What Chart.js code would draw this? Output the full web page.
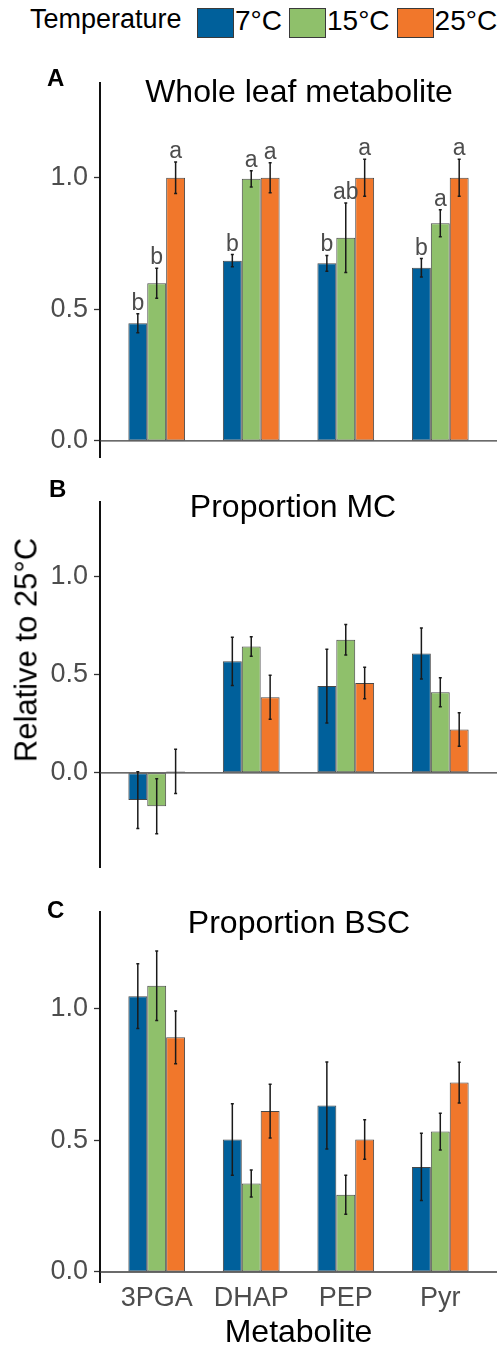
<!DOCTYPE html>
<html>
<head>
<meta charset="utf-8">
<script src="https://cdn.jsdelivr.net/npm/chart.js@4.4.0/dist/chart.umd.min.js"></script>
<style>
  html, body { margin: 0; padding: 0; background: #fff; }
  #fig { position: relative; width: 501px; height: 1345px; overflow: hidden;
         font-family: "Liberation Sans", Arial, sans-serif; }
  .txt { position: absolute; white-space: nowrap; line-height: 1; z-index: 2; color: #000; }
  .panel { position: absolute; left: 0; width: 501px; }
  .panel canvas { display: block; }
  #legend { position: absolute; left: 197px; top: 8px; display: flex; align-items: center; z-index: 2; }
  .lg-box { width: 37px; height: 30px; box-sizing: border-box; border: 1px solid #3a3a3a; }
  .lg-txt { font-size: 28px; line-height: 1; margin: 0 7px 0 1px; position: relative; top: -2px; }
</style>
</head>
<body>
<div id="fig">
  <div class="panel" style="top:60px;height:420px"><canvas id="chart-a" width="501" height="420"></canvas></div>
  <div class="panel" style="top:480px;height:410px"><canvas id="chart-b" width="501" height="410"></canvas></div>
  <div class="panel" style="top:890px;height:462px"><canvas id="chart-c" width="501" height="462"></canvas></div>

  <div class="txt" style="left:30px;top:6px;font-size:27px">Temperature</div>
  <div id="legend"></div>

  <div class="txt" style="left:47px;top:66px;font-size:24px;font-weight:bold">A</div>
  <div class="txt" style="left:49px;top:477px;font-size:24px;font-weight:bold">B</div>
  <div class="txt" style="left:47px;top:898px;font-size:24px;font-weight:bold">C</div>

  <div class="txt" style="left:299px;top:75px;font-size:32px;transform:translateX(-50%)">Whole leaf metabolite</div>
  <div class="txt" style="left:293px;top:490px;font-size:32px;transform:translateX(-50%)">Proportion MC</div>
  <div class="txt" style="left:299px;top:906px;font-size:32px;transform:translateX(-50%)">Proportion BSC</div>

  <div class="txt" style="left:26px;top:650px;font-size:31px;transform:translate(-50%,-50%) rotate(-90deg)">Relative to 25°C</div>
</div>

<script>
'use strict';

// ── Data ──────────────────────────────────────────────────────
const CATEGORIES = ['3PGA', 'DHAP', 'PEP', 'Pyr'];
const TEMPS      = ['7°C', '15°C', '25°C'];
const COLORS     = ['#00609b', '#8fc06b', '#f1772b'];
const Y_TICKS    = [0, 0.5, 1.0];

// A – whole leaf
const WHOLE_7      = [0.447, 0.685, 0.675, 0.658];
const WHOLE_7_ERR  = [0.036, 0.023, 0.030, 0.035];
const WHOLE_15     = [0.599, 0.996, 0.772, 0.827];
const WHOLE_15_ERR = [0.057, 0.031, 0.132, 0.051];
const WHOLE_25     = [1.0, 1.0, 1.0, 1.0];
const WHOLE_25_ERR = [0.060, 0.057, 0.070, 0.070];
const WHOLE_7_SIG  = ['b', 'b', 'b', 'b'];
const WHOLE_15_SIG = ['b', 'a', 'ab', 'a'];
const WHOLE_25_SIG = ['a', 'a', 'a', 'a'];

// B – proportion MC
const MC_7      = [-0.139, 0.568, 0.442, 0.608];
const MC_7_ERR  = [0.145, 0.123, 0.188, 0.130];
const MC_15     = [-0.170, 0.644, 0.678, 0.411];
const MC_15_ERR = [0.140, 0.050, 0.078, 0.074];
const MC_25     = [0.007, 0.385, 0.458, 0.221];
const MC_25_ERR = [0.113, 0.112, 0.080, 0.085];

// C – proportion BSC
const BSC_7      = [1.047, 0.503, 0.632, 0.399];
const BSC_7_ERR  = [0.123, 0.136, 0.165, 0.128];
const BSC_15     = [1.087, 0.336, 0.293, 0.533];
const BSC_15_ERR = [0.132, 0.051, 0.074, 0.070];
const BSC_25     = [0.891, 0.611, 0.503, 0.719];
const BSC_25_ERR = [0.100, 0.102, 0.075, 0.077];

// ── Legend (html) ─────────────────────────────────────────────
const legend = document.getElementById('legend');
TEMPS.forEach((t, i) => {
  const b = document.createElement('div');
  b.className = 'lg-box';
  b.style.background = COLORS[i];
  const s = document.createElement('div');
  s.className = 'lg-txt';
  s.textContent = t;
  legend.appendChild(b);
  legend.appendChild(s);
});

// ── Helpers ───────────────────────────────────────────────────
Chart.defaults.font.family = '"Liberation Sans", Arial, sans-serif';

function makeDataset(i, vals, errs, sig) {
  return {
    label: TEMPS[i],
    data: vals.map((v, k) => ({ x: k + 1, y: v })),
    errors: errs,
    letters: sig || null,
    backgroundColor: COLORS[i],
    borderColor: 'rgba(40,40,40,0.85)',
    borderWidth: 1,
    borderSkipped: false,
    categoryPercentage: 0.6,
    barPercentage: 1.0,
  };
}

// zero line, error bars and letters drawn over the bars
const errorBars = {
  id: 'errorBars',
  afterDatasetsDraw(chart) {
    const { ctx, chartArea, scales: { y } } = chart;
    ctx.save();
    const y0 = y.getPixelForValue(0);
    ctx.strokeStyle = '#3a3a3a';
    ctx.lineWidth = 1.3;
    ctx.beginPath();
    ctx.moveTo(chartArea.left, y0);
    ctx.lineTo(chartArea.right, y0);
    ctx.stroke();

    chart.data.datasets.forEach((ds, di) => {
      const meta = chart.getDatasetMeta(di);
      meta.data.forEach((bar, k) => {
        const v = ds.data[k].y, e = ds.errors[k];
        const top = y.getPixelForValue(v + e);
        const bot = y.getPixelForValue(v - e);
        ctx.strokeStyle = '#1a1a1a';
        ctx.lineWidth = 1.5;
        ctx.beginPath();
        ctx.moveTo(bar.x, top); ctx.lineTo(bar.x, bot);
        ctx.moveTo(bar.x - 1.5, top); ctx.lineTo(bar.x + 1.5, top);
        ctx.moveTo(bar.x - 1.5, bot); ctx.lineTo(bar.x + 1.5, bot);
        ctx.stroke();
        if (ds.letters) {
          ctx.fillStyle = '#4d4d4d';
          ctx.font = '23px "Liberation Sans", Arial, sans-serif';
          ctx.textAlign = 'center';
          ctx.textBaseline = 'alphabetic';
          ctx.fillText(ds.letters[k], bar.x, top - 4);
        }
      });
    });
    ctx.restore();
  },
};

function buildPanel(canvasId, datasets, yMin, yMax, pad, showX) {
  const canvas = document.getElementById(canvasId);
  return new Chart(canvas.getContext('2d'), {
    type: 'bar',
    data: { datasets },
    plugins: [errorBars],
    options: {
      responsive: false,
      animation: false,
      layout: { padding: { left: 0, right: 4, top: pad.top, bottom: pad.bottom } },
      plugins: { legend: { display: false }, tooltip: { enabled: false } },
      scales: {
        x: {
          type: 'linear',
          min: 0.4,
          max: 4.6,
          offset: false,
          display: showX,
          afterBuildTicks: (s) => { s.ticks = CATEGORIES.map((c, k) => ({ value: k + 1 })); },
          afterFit: (s) => { if (showX) s.height = 70; },
          grid: { display: false, drawTicks: false },
          border: { display: false },
          ticks: {
            color: '#4d4d4d',
            font: { size: 27 },
            padding: 0,
            maxRotation: 0,
            autoSkip: false,
            callback: (v) => CATEGORIES[v - 1],
          },
          title: {
            display: showX,
            text: 'Metabolite',
            color: '#000',
            font: { size: 32 },
            padding: 0,
          },
        },
        y: {
          min: yMin,
          max: yMax,
          afterBuildTicks: (s) => { s.ticks = Y_TICKS.map((v) => ({ value: v })); },
          afterFit: (s) => { s.width = 100; },
          grid: {
            drawOnChartArea: false,
            drawTicks: true,
            tickLength: 6,
            tickColor: '#333',
            tickWidth: 1.3,
          },
          border: { display: true, color: '#111', width: 2 },
          ticks: {
            color: '#4d4d4d',
            font: { size: 27 },
            padding: 6,
            callback: (v) => Number(v).toFixed(1),
          },
        },
      },
    },
  });
}

// ── Build ─────────────────────────────────────────────────────
buildPanel('chart-a', [
  makeDataset(0, WHOLE_7, WHOLE_7_ERR, WHOLE_7_SIG),
  makeDataset(1, WHOLE_15, WHOLE_15_ERR, WHOLE_15_SIG),
  makeDataset(2, WHOLE_25, WHOLE_25_ERR, WHOLE_25_SIG),
], -0.064, 1.36, { top: 23, bottom: 13 }, false);

buildPanel('chart-b', [
  makeDataset(0, MC_7, MC_7_ERR),
  makeDataset(1, MC_15, MC_15_ERR),
  makeDataset(2, MC_25, MC_25_ERR),
], -0.484, 1.379, { top: 12, bottom: 13 }, false);

buildPanel('chart-c', [
  makeDataset(0, BSC_7, BSC_7_ERR),
  makeDataset(1, BSC_15, BSC_15_ERR),
  makeDataset(2, BSC_25, BSC_25_ERR),
], -0.038, 1.366, { top: 13, bottom: 0 }, true);
</script>
</body>
</html>
